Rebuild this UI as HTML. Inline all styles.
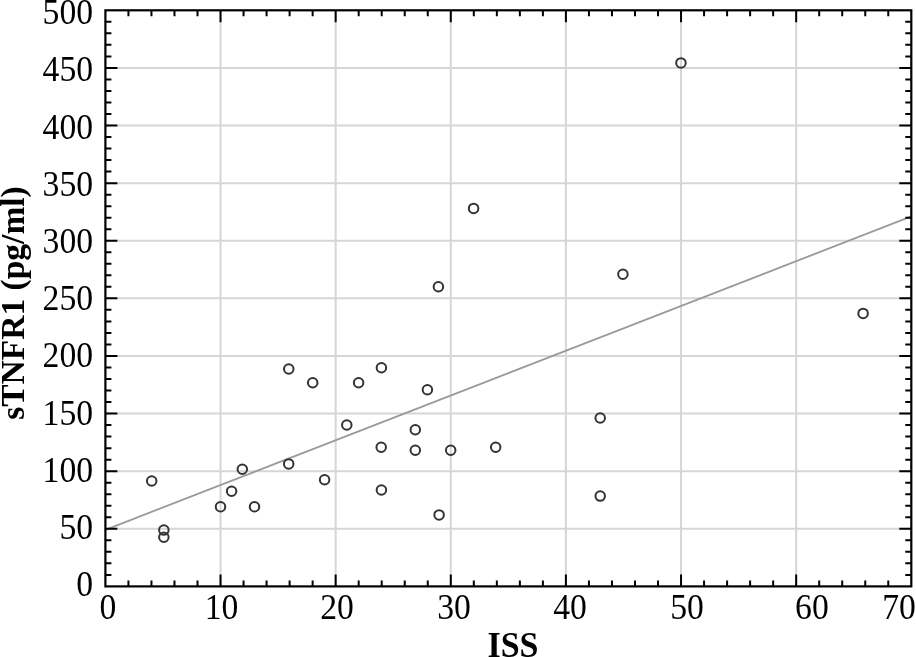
<!DOCTYPE html><html><head><meta charset="utf-8"><style>html,body{margin:0;padding:0;background:#fff;}svg{display:block;will-change:transform;}</style></head><body>
<svg width="916" height="657" viewBox="0 0 916 657">
<rect x="0" y="0" width="916" height="657" fill="#fff"/>
<path d="M220.53 10.30V586.40M335.66 10.30V586.40M450.79 10.30V586.40M565.91 10.30V586.40M681.04 10.30V586.40M796.17 10.30V586.40M105.40 528.79H911.30M105.40 471.18H911.30M105.40 413.57H911.30M105.40 355.96H911.30M105.40 298.35H911.30M105.40 240.74H911.30M105.40 183.13H911.30M105.40 125.52H911.30M105.40 67.91H911.30" stroke="#d6d6d6" stroke-width="2" fill="none"/>
<line x1="105.4" y1="529.8" x2="911.3" y2="216.4" stroke="#9a9a9a" stroke-width="1.8"/>
<circle cx="151.7" cy="481.0" r="4.75" fill="none" stroke="#333" stroke-width="2"/>
<circle cx="163.85" cy="530.1" r="4.75" fill="none" stroke="#333" stroke-width="2"/>
<circle cx="163.85" cy="537.2" r="4.75" fill="none" stroke="#333" stroke-width="2"/>
<circle cx="220.5" cy="506.8" r="4.75" fill="none" stroke="#333" stroke-width="2"/>
<circle cx="231.6" cy="491.3" r="4.75" fill="none" stroke="#333" stroke-width="2"/>
<circle cx="242.3" cy="469.2" r="4.75" fill="none" stroke="#333" stroke-width="2"/>
<circle cx="254.5" cy="506.8" r="4.75" fill="none" stroke="#333" stroke-width="2"/>
<circle cx="288.76" cy="369.0" r="4.75" fill="none" stroke="#333" stroke-width="2"/>
<circle cx="288.7" cy="463.9" r="4.75" fill="none" stroke="#333" stroke-width="2"/>
<circle cx="312.7" cy="382.8" r="4.75" fill="none" stroke="#333" stroke-width="2"/>
<circle cx="324.6" cy="479.7" r="4.75" fill="none" stroke="#333" stroke-width="2"/>
<circle cx="346.8" cy="425.0" r="4.75" fill="none" stroke="#333" stroke-width="2"/>
<circle cx="358.6" cy="382.8" r="4.75" fill="none" stroke="#333" stroke-width="2"/>
<circle cx="381.4" cy="367.7" r="4.75" fill="none" stroke="#333" stroke-width="2"/>
<circle cx="381.2" cy="447.3" r="4.75" fill="none" stroke="#333" stroke-width="2"/>
<circle cx="381.4" cy="490.0" r="4.75" fill="none" stroke="#333" stroke-width="2"/>
<circle cx="415.3" cy="429.7" r="4.75" fill="none" stroke="#333" stroke-width="2"/>
<circle cx="415.3" cy="450.2" r="4.75" fill="none" stroke="#333" stroke-width="2"/>
<circle cx="427.4" cy="389.7" r="4.75" fill="none" stroke="#333" stroke-width="2"/>
<circle cx="438.4" cy="286.8" r="4.75" fill="none" stroke="#333" stroke-width="2"/>
<circle cx="439.1" cy="514.9" r="4.75" fill="none" stroke="#333" stroke-width="2"/>
<circle cx="450.7" cy="450.2" r="4.75" fill="none" stroke="#333" stroke-width="2"/>
<circle cx="473.6" cy="208.4" r="4.75" fill="none" stroke="#333" stroke-width="2"/>
<circle cx="495.7" cy="447.2" r="4.75" fill="none" stroke="#333" stroke-width="2"/>
<circle cx="600.2" cy="418.0" r="4.75" fill="none" stroke="#333" stroke-width="2"/>
<circle cx="600.2" cy="496.1" r="4.75" fill="none" stroke="#333" stroke-width="2"/>
<circle cx="622.9" cy="274.2" r="4.75" fill="none" stroke="#333" stroke-width="2"/>
<circle cx="680.95" cy="62.9" r="4.75" fill="none" stroke="#333" stroke-width="2"/>
<circle cx="863.1" cy="313.4" r="4.75" fill="none" stroke="#333" stroke-width="2"/>
<path d="M128.43 586.40v-6M128.43 10.30v6M151.45 586.40v-6M151.45 10.30v6M174.48 586.40v-6M174.48 10.30v6M197.50 586.40v-6M197.50 10.30v6M220.53 586.40v-12M220.53 10.30v12M243.55 586.40v-6M243.55 10.30v6M266.58 586.40v-6M266.58 10.30v6M289.61 586.40v-6M289.61 10.30v6M312.63 586.40v-6M312.63 10.30v6M335.66 586.40v-12M335.66 10.30v12M358.68 586.40v-6M358.68 10.30v6M381.71 586.40v-6M381.71 10.30v6M404.73 586.40v-6M404.73 10.30v6M427.76 586.40v-6M427.76 10.30v6M450.79 586.40v-12M450.79 10.30v12M473.81 586.40v-6M473.81 10.30v6M496.84 586.40v-6M496.84 10.30v6M519.86 586.40v-6M519.86 10.30v6M542.89 586.40v-6M542.89 10.30v6M565.91 586.40v-12M565.91 10.30v12M588.94 586.40v-6M588.94 10.30v6M611.97 586.40v-6M611.97 10.30v6M634.99 586.40v-6M634.99 10.30v6M658.02 586.40v-6M658.02 10.30v6M681.04 586.40v-12M681.04 10.30v12M704.07 586.40v-6M704.07 10.30v6M727.09 586.40v-6M727.09 10.30v6M750.12 586.40v-6M750.12 10.30v6M773.15 586.40v-6M773.15 10.30v6M796.17 586.40v-12M796.17 10.30v12M819.20 586.40v-6M819.20 10.30v6M842.22 586.40v-6M842.22 10.30v6M865.25 586.40v-6M865.25 10.30v6M888.27 586.40v-6M888.27 10.30v6M105.40 574.88h6M911.30 574.88h-6M105.40 563.36h6M911.30 563.36h-6M105.40 551.83h6M911.30 551.83h-6M105.40 540.31h6M911.30 540.31h-6M105.40 528.79h12M911.30 528.79h-12M105.40 517.27h6M911.30 517.27h-6M105.40 505.75h6M911.30 505.75h-6M105.40 494.22h6M911.30 494.22h-6M105.40 482.70h6M911.30 482.70h-6M105.40 471.18h12M911.30 471.18h-12M105.40 459.66h6M911.30 459.66h-6M105.40 448.14h6M911.30 448.14h-6M105.40 436.61h6M911.30 436.61h-6M105.40 425.09h6M911.30 425.09h-6M105.40 413.57h12M911.30 413.57h-12M105.40 402.05h6M911.30 402.05h-6M105.40 390.53h6M911.30 390.53h-6M105.40 379.00h6M911.30 379.00h-6M105.40 367.48h6M911.30 367.48h-6M105.40 355.96h12M911.30 355.96h-12M105.40 344.44h6M911.30 344.44h-6M105.40 332.92h6M911.30 332.92h-6M105.40 321.39h6M911.30 321.39h-6M105.40 309.87h6M911.30 309.87h-6M105.40 298.35h12M911.30 298.35h-12M105.40 286.83h6M911.30 286.83h-6M105.40 275.31h6M911.30 275.31h-6M105.40 263.78h6M911.30 263.78h-6M105.40 252.26h6M911.30 252.26h-6M105.40 240.74h12M911.30 240.74h-12M105.40 229.22h6M911.30 229.22h-6M105.40 217.70h6M911.30 217.70h-6M105.40 206.17h6M911.30 206.17h-6M105.40 194.65h6M911.30 194.65h-6M105.40 183.13h12M911.30 183.13h-12M105.40 171.61h6M911.30 171.61h-6M105.40 160.09h6M911.30 160.09h-6M105.40 148.56h6M911.30 148.56h-6M105.40 137.04h6M911.30 137.04h-6M105.40 125.52h12M911.30 125.52h-12M105.40 114.00h6M911.30 114.00h-6M105.40 102.48h6M911.30 102.48h-6M105.40 90.95h6M911.30 90.95h-6M105.40 79.43h6M911.30 79.43h-6M105.40 67.91h12M911.30 67.91h-12M105.40 56.39h6M911.30 56.39h-6M105.40 44.87h6M911.30 44.87h-6M105.40 33.34h6M911.30 33.34h-6M105.40 21.82h6M911.30 21.82h-6" stroke="#000" stroke-width="2" fill="none"/>
<rect x="105.4" y="10.3" width="805.90" height="576.10" fill="none" stroke="#000" stroke-width="2.2"/>
<g font-family="Liberation Serif, serif" font-size="33.7" fill="#000">
<text transform="translate(93.1 596.32) scale(1 1.045)" text-anchor="end">0</text>
<text transform="translate(93.1 539.10) scale(1 1.045)" text-anchor="end">50</text>
<text transform="translate(93.1 481.88) scale(1 1.045)" text-anchor="end">100</text>
<text transform="translate(93.1 424.66) scale(1 1.045)" text-anchor="end">150</text>
<text transform="translate(93.1 367.44) scale(1 1.045)" text-anchor="end">200</text>
<text transform="translate(93.1 310.22) scale(1 1.045)" text-anchor="end">250</text>
<text transform="translate(93.1 253.00) scale(1 1.045)" text-anchor="end">300</text>
<text transform="translate(93.1 195.78) scale(1 1.045)" text-anchor="end">350</text>
<text transform="translate(93.1 138.56) scale(1 1.045)" text-anchor="end">400</text>
<text transform="translate(93.1 81.34) scale(1 1.045)" text-anchor="end">450</text>
<text transform="translate(93.1 24.12) scale(1 1.045)" text-anchor="end">500</text>
<text transform="translate(107.9 619.32) scale(1 1.045)" text-anchor="middle">0</text>
<text transform="translate(221.5 619.32) scale(1 1.045)" text-anchor="middle">10</text>
<text transform="translate(337.1 619.32) scale(1 1.045)" text-anchor="middle">20</text>
<text transform="translate(454.05 619.32) scale(1 1.045)" text-anchor="middle">30</text>
<text transform="translate(570 619.32) scale(1 1.045)" text-anchor="middle">40</text>
<text transform="translate(687.1 619.32) scale(1 1.045)" text-anchor="middle">50</text>
<text transform="translate(811.9 619.32) scale(1 1.045)" text-anchor="middle">60</text>
<text transform="translate(899 619.32) scale(1 1.045)" text-anchor="middle">70</text>
</g>
<text transform="translate(513 656.9) scale(1 1.04)" font-family="Liberation Serif, serif" font-weight="bold" font-size="34" text-anchor="middle">ISS</text>
<text transform="translate(24.3 303) rotate(-90) scale(1 1.03)" x="0" y="0" font-family="Liberation Serif, serif" font-weight="bold" font-size="33.5" text-anchor="middle">sTNFR1 (pg/ml)</text>
</svg></body></html>
